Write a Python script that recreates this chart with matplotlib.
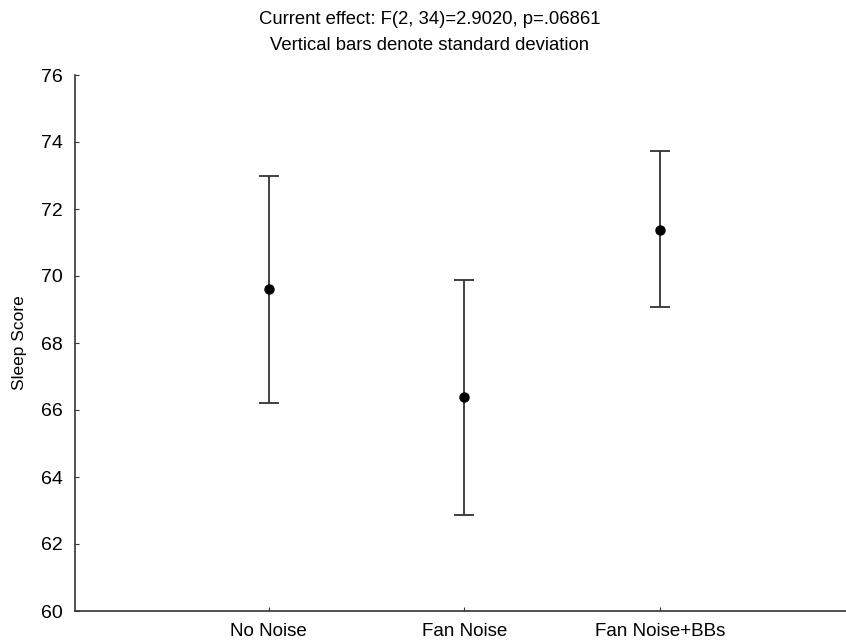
import numpy as np
import matplotlib.pyplot as plt

plt.rcParams['font.family'] = ['Liberation Sans', 'DejaVu Sans']

groups = ['No Noise', 'Fan Noise', 'Fan Noise+BBs']
means = [69.61, 66.39, 71.37]
upper = [72.99, 69.88, 73.73]
lower = [66.21, 62.87, 69.07]

x = np.arange(len(groups))
err = [np.array(means) - np.array(lower), np.array(upper) - np.array(means)]

fig = plt.figure(figsize=(8.46, 6.42), dpi=100)
ax = fig.add_axes([75 / 846, 31 / 642, 1 - 75 / 846, 536 / 642])

ax.errorbar(x, means, yerr=err, fmt='o', color='black', ecolor='#333333',
            elinewidth=1.3, capsize=7.2, capthick=1.3, markersize=6.5)

ax.set_xlim(-0.99, 2.95)
ax.set_ylim(60, 76)
ax.set_yticks(np.arange(60, 77, 2))
ax.set_xticks(x)
ax.set_xticklabels(groups)
ax.tick_params(direction='in', length=3, labelsize=14, colors='#333333',
               labelcolor='black')
ax.tick_params(axis='y', pad=9)
ax.tick_params(axis='x', labelsize=13.5, pad=9)
for s in ['top', 'right']:
    ax.spines[s].set_visible(False)
for s in ['left', 'bottom']:
    ax.spines[s].set_color('#333333')
    ax.spines[s].set_linewidth(1.2)

ax.set_ylabel('Sleep Score', fontsize=12.5, labelpad=10)
fig.text(430 / 846, 1 - 19 / 642, 'Current effect: F(2, 34)=2.9020, p=.06861',
         ha='center', va='center', fontsize=13.3)
fig.text(430 / 846, 1 - 46 / 642, 'Vertical bars denote standard deviation',
         ha='center', va='center', fontsize=13.3)

fig.savefig('out.png', dpi=100)
